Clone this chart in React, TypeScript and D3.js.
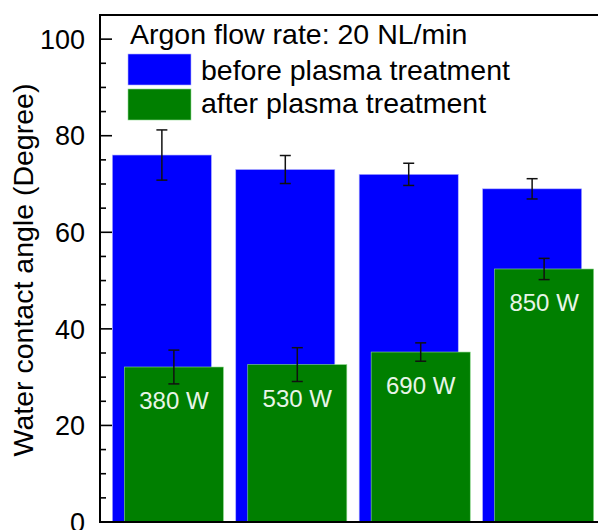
import React, { useEffect, useRef } from 'react';
import * as d3 from 'd3';

const categories = ['380 W', '530 W', '690 W', '850 W'];
const beforeValues = [76, 73, 72, 69];
const beforeErrors = [5.2, 2.9, 2.3, 2.1];
const afterValues = [32.1, 32.6, 35.2, 52.4];
const afterErrors = [3.5, 3.5, 1.9, 2.2];
const yTicks = [0, 20, 40, 60, 80, 100];
const legendTitle = 'Argon flow rate: 20 NL/min';
const seriesNames = ['before plasma treatment', 'after plasma treatment'];
const yTitle = 'Water contact angle (Degree)';

const BLUE = '#0000ff';
const GREEN = '#007f00';
const FONT = '"Liberation Sans", Arial, sans-serif';

export default function App() {
  const svgRef = useRef<SVGSVGElement | null>(null);

  useEffect(() => {
    if (!svgRef.current) return;
    const svg = d3.select(svgRef.current);
    svg.selectAll('*').remove();

    const left = 100;
    const top = 15;
    const bottom = 522;

    const x = d3.scaleBand<string>()
      .domain(categories)
      .range([left, 606])
      .paddingInner(0.1)
      .paddingOuter(0.1);
    const y = d3.scaleLinear().domain([0, 105]).range([bottom, top]);

    const bw = x.bandwidth();
    const barW = bw * 0.892;
    const shift = bw - barW;

    const g = svg.append('g');

    // before bars (blue)
    g.selectAll('rect.before')
      .data(categories)
      .join('rect')
      .attr('class', 'before')
      .attr('x', (d) => x(d)!)
      .attr('y', (_, i) => y(beforeValues[i]))
      .attr('width', barW)
      .attr('height', (_, i) => bottom - y(beforeValues[i]))
      .attr('fill', BLUE)
      .attr('stroke', '#b0b0ff')
      .attr('stroke-width', 0.6);

    const errBar = (
      sel: d3.Selection<SVGGElement, unknown, null, undefined>,
      vals: number[],
      errs: number[],
      offset: number
    ) => {
      categories.forEach((c, i) => {
        const cx = x(c)! + offset + barW / 2;
        const y1 = y(vals[i] + errs[i]);
        const y2 = y(vals[i] - errs[i]);
        sel.append('line').attr('x1', cx).attr('x2', cx).attr('y1', y1).attr('y2', y2);
        sel.append('line').attr('x1', cx - 5.5).attr('x2', cx + 5.5).attr('y1', y1).attr('y2', y1);
        sel.append('line').attr('x1', cx - 5.5).attr('x2', cx + 5.5).attr('y1', y2).attr('y2', y2);
      });
    };

    const errBefore = g.append('g').attr('stroke', '#111').attr('stroke-width', 1.5);
    errBar(errBefore, beforeValues, beforeErrors, 0);

    // after bars (green)
    g.selectAll('rect.after')
      .data(categories)
      .join('rect')
      .attr('class', 'after')
      .attr('x', (d) => x(d)! + shift)
      .attr('y', (_, i) => y(afterValues[i]))
      .attr('width', barW)
      .attr('height', (_, i) => bottom - y(afterValues[i]))
      .attr('fill', GREEN)
      .attr('stroke', '#8fd98f')
      .attr('stroke-width', 0.6);

    const errAfter = g.append('g').attr('stroke', '#111').attr('stroke-width', 1.5);
    errBar(errAfter, afterValues, afterErrors, shift);

    // power labels inside green bars
    g.selectAll('text.power')
      .data(categories)
      .join('text')
      .attr('class', 'power')
      .attr('x', (d) => x(d)! + shift + barW / 2)
      .attr('y', (_, i) => y(afterValues[i]) + 42)
      .attr('text-anchor', 'middle')
      .attr('fill', '#e8f5e8')
      .attr('font-size', 24)
      .attr('font-family', FONT)
      .text((d) => d);

    // y axis with inward ticks
    const yAxis = svg.append('g').attr('transform', `translate(${left},0)`);
    yAxis.append('line')
      .attr('x1', 0).attr('x2', 0)
      .attr('y1', top).attr('y2', bottom)
      .attr('stroke', '#000').attr('stroke-width', 2);
    yAxis.selectAll('line.minor')
      .data(d3.range(5, 105, 5).filter((v) => v % 20 !== 0))
      .join('line')
      .attr('class', 'minor')
      .attr('x1', 0).attr('x2', 6)
      .attr('y1', (d) => y(d)).attr('y2', (d) => y(d))
      .attr('stroke', '#000').attr('stroke-width', 1.6);
    yAxis.selectAll('line.major')
      .data(yTicks)
      .join('line')
      .attr('class', 'major')
      .attr('x1', 0).attr('x2', 12)
      .attr('y1', (d) => y(d)).attr('y2', (d) => y(d))
      .attr('stroke', '#000').attr('stroke-width', 1.6);
    yAxis.selectAll('text')
      .data(yTicks)
      .join('text')
      .attr('x', -15)
      .attr('y', (d) => y(d))
      .attr('dy', '0.36em')
      .attr('text-anchor', 'end')
      .attr('font-size', 27)
      .attr('font-family', FONT)
      .attr('fill', '#000')
      .text((d) => d);

    // bottom axis and top frame
    svg.append('line')
      .attr('x1', left - 1).attr('x2', 598)
      .attr('y1', bottom).attr('y2', bottom)
      .attr('stroke', '#000').attr('stroke-width', 2);
    svg.append('line')
      .attr('x1', left - 1).attr('x2', 598)
      .attr('y1', top).attr('y2', top)
      .attr('stroke', '#000').attr('stroke-width', 2);

    // y title
    svg.append('text')
      .attr('transform', `translate(33,${(83 + 457) / 2}) rotate(-90)`)
      .attr('text-anchor', 'middle')
      .attr('font-size', 28.5)
      .attr('font-family', FONT)
      .attr('fill', '#000')
      .text(yTitle);

    // legend
    const legend = svg.append('g').attr('font-family', FONT).attr('fill', '#000');
    legend.append('text')
      .attr('x', 130).attr('y', 44)
      .attr('font-size', 28.5)
      .text(legendTitle);
    [BLUE, GREEN].forEach((c, i) => {
      legend.append('rect')
        .attr('x', 128).attr('y', 54 + i * 35)
        .attr('width', 63).attr('height', 31)
        .attr('fill', c)
        .attr('stroke', i === 0 ? '#b0b0ff' : '#8fd98f')
        .attr('stroke-width', 0.6);
      legend.append('text')
        .attr('x', 201).attr('y', 80 + i * 33)
        .attr('font-size', 28.5)
        .text(seriesNames[i]);
    });
  }, []);

  return (
    <svg
      ref={svgRef}
      width={598}
      height={530}
      style={{ position: 'absolute', left: 0, top: 0, display: 'block', background: '#fff' }}
    />
  );
}
